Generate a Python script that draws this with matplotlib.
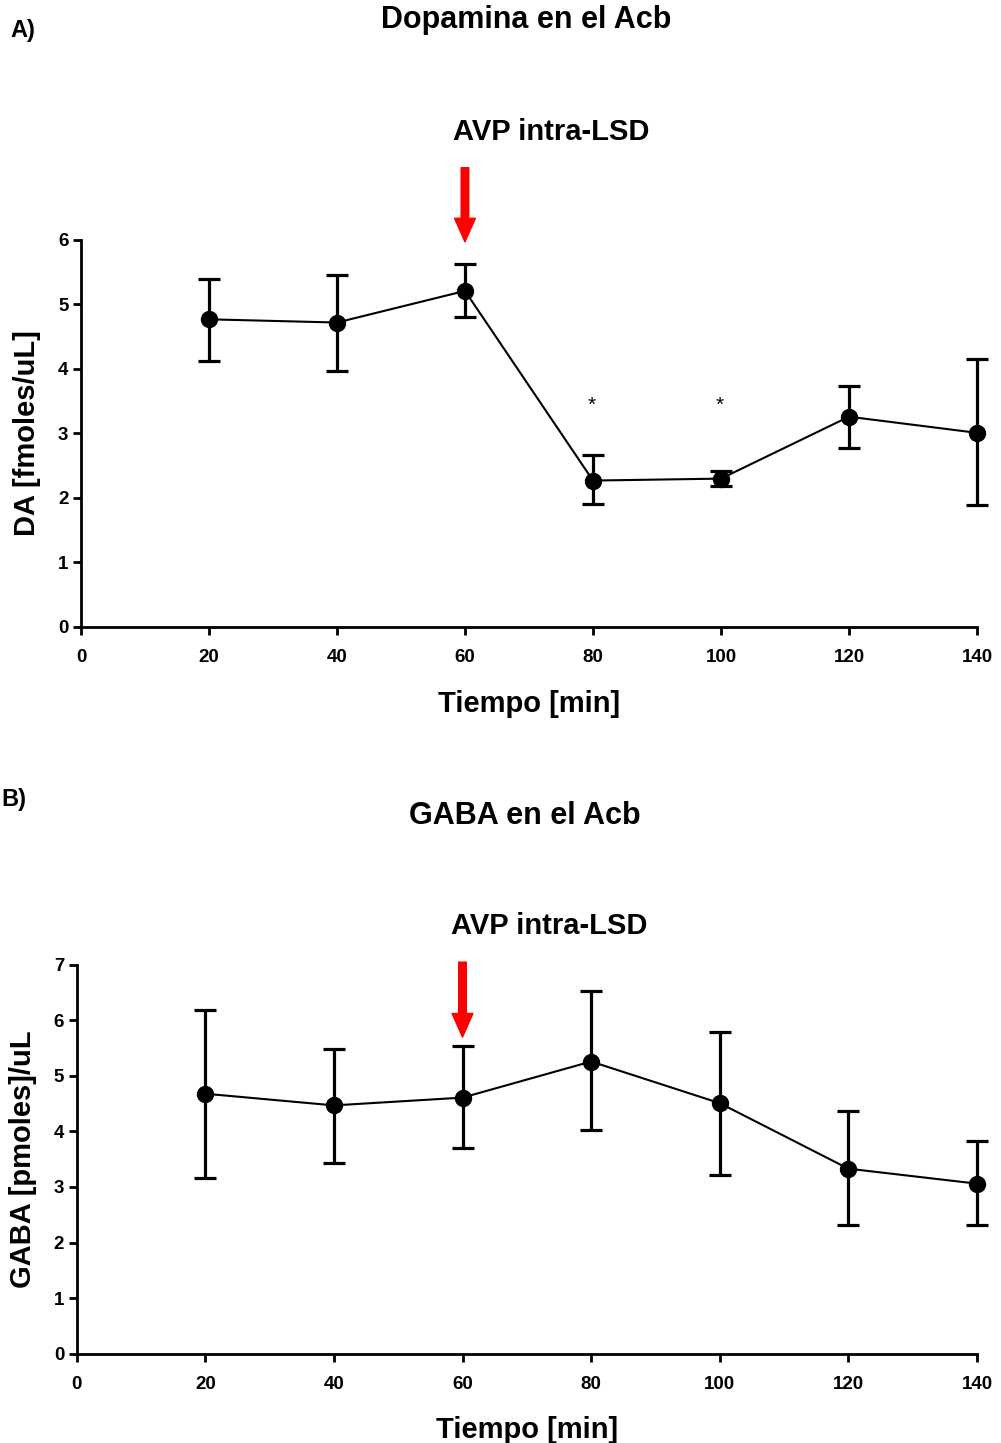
import numpy as np
import matplotlib
matplotlib.use('Agg')
import matplotlib.pyplot as plt

plt.rcParams['font.family'] = ['Liberation Sans', 'DejaVu Sans']
plt.rcParams['font.weight'] = 'bold'

# data
tiempo = [20, 40, 60, 80, 100, 120, 140]

da_mean = [4.77, 4.72, 5.21, 2.27, 2.30, 3.26, 3.01]
da_up = [5.40, 5.46, 5.63, 2.66, 2.42, 3.74, 4.15]
da_down = [4.13, 3.97, 4.81, 1.90, 2.18, 2.78, 1.89]

gaba_mean = [4.68, 4.47, 4.61, 5.26, 4.51, 3.33, 3.06]
gaba_up = [6.19, 5.49, 5.54, 6.53, 5.80, 4.36, 3.82]
gaba_down = [3.17, 3.44, 3.71, 4.02, 3.22, 2.32, 2.31]

sig_x = [80, 100]
xticks = [0, 20, 40, 60, 80, 100, 120, 140]

fig = plt.figure(figsize=(10.01, 14.43), dpi=100)
ax1 = fig.add_axes([0.0809, 0.5655, 0.8951, 0.2682])
ax2 = fig.add_axes([0.0766, 0.0620, 0.8994, 0.2693])


def panel(ax, mean, up, down, ymax, ylabel):
    mean = np.array(mean)
    yerr = [mean - np.array(down), np.array(up) - mean]
    ax.errorbar(tiempo, mean, yerr=yerr, color='black', lw=1.5, marker='o',
                markersize=11.5, ecolor='black', elinewidth=2.3, capsize=8,
                capthick=2.3, clip_on=False, zorder=3)
    ax.set_xlim(0, 140)
    ax.set_ylim(0, ymax)
    ax.set_xticks(xticks)
    ax.set_yticks(range(0, ymax + 1))
    for s in ['top', 'right']:
        ax.spines[s].set_visible(False)
    for s in ['left', 'bottom']:
        ax.spines[s].set_linewidth(2)
    ax.tick_params(width=2, length=6, labelsize=13.5, direction='out')
    ax.tick_params(axis='x', pad=10)
    ax.tick_params(axis='y', pad=3)
    for lab in ax.get_xticklabels() + ax.get_yticklabels():
        lab.set_fontweight('bold')
    ax.set_xlabel('Tiempo [min]', fontsize=21, fontweight='bold', labelpad=17)
    ax.set_ylabel(ylabel, fontsize=21, fontweight='bold', labelpad=12)


panel(ax1, da_mean, da_up, da_down, 6, 'DA [fmoles/uL]')
panel(ax2, gaba_mean, gaba_up, gaba_down, 7, 'GABA [pmoles]/uL')

for x in sig_x:
    ax1.text(x - 0.2, 3.43, '*', ha='center', va='center', fontsize=15,
             fontweight='normal')

ax1.annotate('', xy=(60, 5.97), xytext=(60, 7.12),
             arrowprops=dict(facecolor='red', edgecolor='red', width=5.5,
                             headwidth=15, headlength=17),
             annotation_clip=False)
ax2.annotate('', xy=(60, 5.70), xytext=(60, 7.05),
             arrowprops=dict(facecolor='red', edgecolor='red', width=5.5,
                             headwidth=15, headlength=17),
             annotation_clip=False)

fig.text(0.526, 1 - 20 / 1443, 'Dopamina en el Acb', ha='center', va='center',
         fontsize=22, fontweight='bold')
fig.text(0.551, 1 - 132 / 1443, 'AVP intra-LSD', ha='center', va='center',
         fontsize=21, fontweight='bold')
fig.text(0.010, 1 - 31 / 1443, 'A)', ha='left', va='center',
         fontsize=17, fontweight='bold')

fig.text(0.524, 1 - 816 / 1443, 'GABA en el Acb', ha='center', va='center',
         fontsize=22, fontweight='bold')
fig.text(0.549, 1 - 926 / 1443, 'AVP intra-LSD', ha='center', va='center',
         fontsize=21, fontweight='bold')
fig.text(0.001, 1 - 800 / 1443, 'B)', ha='left', va='center',
         fontsize=17, fontweight='bold')

fig.savefig('out.png', dpi=100, facecolor='white')
